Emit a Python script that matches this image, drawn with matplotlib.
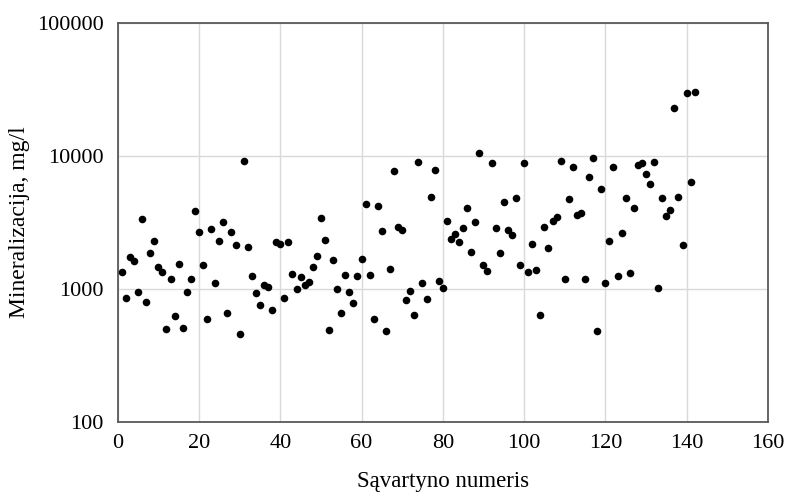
import numpy as np
import matplotlib
matplotlib.use("Agg")
import matplotlib.pyplot as plt
from matplotlib.ticker import FixedLocator, FixedFormatter

# values, one per landfill (x = 1..142)
mineralization = [
    1343, 851, 1730, 1625, 955, 3342, 794, 1855, 2307, 1456,
    1349, 500, 1189, 627, 1541, 509, 955, 1180, 3857, 2683,
    1523, 592, 2843, 1117, 2307, 3193, 660, 2683, 2131, 459,
    9170, 2058, 1253, 938, 754, 1072, 1035, 695, 2244, 2192,
    861, 2244, 1304, 1000, 1230, 1067, 1121, 1456, 1762, 3419,
    2324, 489, 1652, 1005, 660, 1274, 955, 780, 1253, 1690,
    4383, 1282, 592, 4188, 2746, 487, 1413, 7716, 2909, 2761,
    822, 966, 641, 8958, 1109, 836, 4918, 7893, 1148, 1018,
    3247, 2377, 2578, 2244, 2858, 4093, 1888, 3170, 10535, 1514,
    1366, 8858, 2858, 1866, 4508, 2761, 2549, 4808, 1505, 8906,
    1349, 2192, 1397, 641, 2925, 2032, 3265, 3499, 9170, 1196,
    4755, 8224, 3581, 3750, 1189, 6918, 9660, 481, 5620, 1117,
    2283, 8268, 1253, 2652, 4864, 1327, 4067, 8600, 8858, 7323,
    6158, 9013, 1012, 4864, 3556, 3948, 23070, 4943, 2154, 29580,
    6380, 30120,
]
landfill_no = np.arange(1, len(mineralization) + 1)

x_ticks = [0, 20, 40, 60, 80, 100, 120, 140, 160]
y_ticks = [100, 1000, 10000, 100000]
y_tick_labels = ["100", "1000", "10000", "100000"]

plt.rcParams["font.family"] = ["Liberation Serif", "DejaVu Serif"]

fig = plt.figure(figsize=(7.9, 4.95), dpi=100)
ax = fig.add_axes([0.149, 0.1475, 0.823, 0.806])

ax.scatter(landfill_no, mineralization, s=30, color="black", zorder=3, linewidths=0)

ax.set_yscale("log")
ax.set_xlim(0, 160)
ax.set_ylim(100, 100000)
ax.xaxis.set_major_locator(FixedLocator(x_ticks))
ax.yaxis.set_major_locator(FixedLocator(y_ticks))
ax.yaxis.set_major_formatter(FixedFormatter(y_tick_labels))
ax.yaxis.set_minor_locator(FixedLocator([]))

ax.grid(True, color="#d9d9d9", linewidth=1.0, zorder=0)
ax.set_axisbelow(True)
ax.tick_params(length=0, labelsize=16, colors="black")
ax.tick_params(axis="x", pad=8.5)
ax.tick_params(axis="y", pad=10)
for sp in ax.spines.values():
    sp.set_color("#595959")
    sp.set_linewidth(1.3)

ax.set_xlabel("Sąvartyno numeris", fontsize=16.5, labelpad=13)
ax.set_ylabel("Mineralizacija, mg/l", fontsize=17, labelpad=5)

fig.savefig("out.png", dpi=100)
